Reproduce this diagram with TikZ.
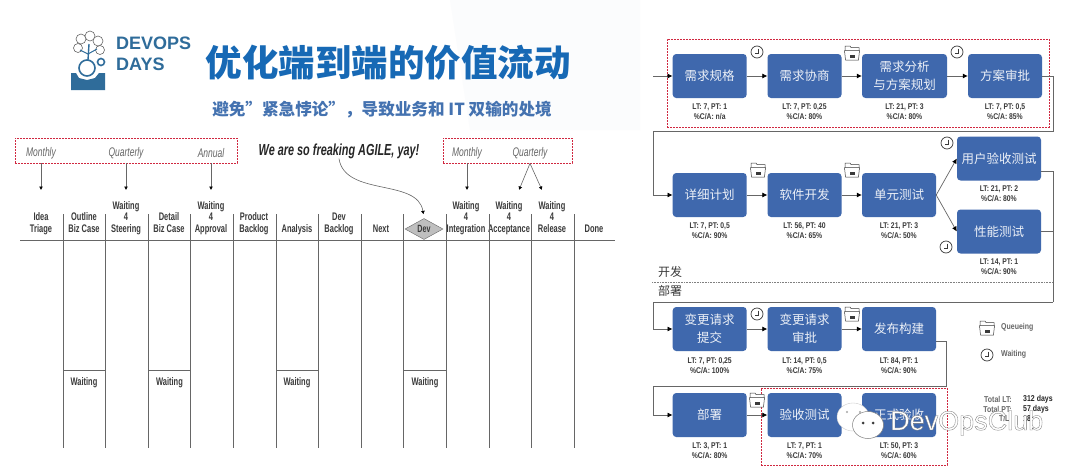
\documentclass[tikz,border=0pt]{standalone}
\usepackage{fontspec}
\usetikzlibrary{arrows.meta,shapes.geometric}
\setmainfont{Liberation Sans}
\newfontfamily\cjkfont{Noto Sans CJK SC}
\newfontfamily\narrowfont[FakeStretch=0.68]{Liberation Sans}
\newfontfamily\metricfont[FakeStretch=0.82]{Liberation Sans}
\definecolor{boxblue}{HTML}{3F68AD}
\definecolor{titleblue}{HTML}{1769B5}
\definecolor{subblue}{HTML}{4472B0}
\definecolor{logoblue}{HTML}{2F6C9A}
\definecolor{framered}{HTML}{D02840}
\definecolor{inkgray}{HTML}{3A3A3A}
\definecolor{linegray}{HTML}{666666}
\definecolor{bgtint}{HTML}{FBFCFD}
\tikzset{
  stepbox/.style={fill=boxblue, rounded corners=3.5pt, minimum height=44pt, inner sep=0pt, align=center, text=white!90!boxblue, font=\cjkfont\fontsize{12.5}{18}\selectfont},
  metric/.style={align=center, inner sep=0pt, text=inkgray, font=\metricfont\bfseries\fontsize{8.3}{10.3}\selectfont},
  flow/.style={draw=linegray, line width=.7pt, -{Latex[length=5pt,width=5pt,color=black]}},
  flowline/.style={draw=linegray, line width=.7pt},
  redframe/.style={draw=framered, dash pattern=on 2pt off 1pt, line width=.9pt, inner sep=0pt},
  colhead/.style={anchor=south, align=center, inner sep=0pt, text=inkgray, execute at end node={\vphantom{g}}, font=\narrowfont\bfseries\fontsize{11}{11.5}\selectfont},
  cadence/.style={inner sep=0pt, text=linegray, font=\narrowfont\itshape\fontsize{12.5}{13}\selectfont},
  cadarrow/.style={draw=linegray, line width=.6pt, -{Latex[length=3.5pt,width=4pt,color=black]}},
  tableline/.style={draw=linegray, line width=.8pt},
  legendtext/.style={anchor=west, inner sep=0pt, text=linegray, font=\metricfont\bfseries\fontsize{8.5}{10}\selectfont},
  totalkey/.style={anchor=east, inner sep=0pt, text=linegray, font=\metricfont\bfseries\fontsize{8.5}{10}\selectfont},
  totalvalue/.style={anchor=west, inner sep=0pt, text=black!85, font=\metricfont\bfseries\fontsize{8.5}{10}\selectfont},
  clockicon/.pic={
    \draw[inkgray, line width=.7pt, fill=white] (0,0) circle (6pt);
    \draw[inkgray, line width=.6pt] (1.5,-3.5) -- (1.5,1.2) -- (-2.5,1.2);
  },
  foldericon/.pic={
    \draw[inkgray, line width=.5pt, fill=white] (-7,-1) -- (-7,-7) -- (-2,-7) -- (-1,-5.5) -- (7,-5.5) -- (7,-1) -- cycle;
    \draw[inkgray, line width=.5pt, fill=white] (-7.5,-2.5) -- (7.5,-2.5) -- (6.5,7) -- (-6.5,7) -- cycle;
    \fill[inkgray] (-2,1.5) rectangle (3,5);
  },
}
\begin{document}
\begin{tikzpicture}[x=1pt,y=-1pt]
  \useasboundingbox (0,0) rectangle (1080,474);
  \fill[white] (0,0) rectangle (1080,474);
  \fill[bgtint] (450,0) -- (640,0) -- (640,130) -- (470,130) -- cycle;
  % red frames
  \node[redframe, minimum width=222pt, minimum height=25pt] (CadenceLeft) at (126,150.5) {};
  \node[redframe, minimum width=129pt, minimum height=25pt] (CadenceRight) at (507.5,150.5) {};
  \node[redframe, minimum width=382pt, minimum height=88pt] (FrameTop) at (858,83) {};
  \node[redframe, minimum width=186pt, minimum height=77pt] (FrameBottom) at (854,426.5) {};
  % logo
  \fill[logoblue] (71,73) -- (76,73) -- (79,78) -- (87,80) -- (95,78) -- (99,73) -- (105,73) -- (105,90) -- (71,90) -- cycle;
  \draw[logoblue, line width=1.6pt] (87,68) circle (8pt);
  \draw[logoblue, line width=1.6pt] (101,62) circle (3.5pt);
  \draw[linegray, line width=.6pt, fill=white] (81,39) circle (5pt);
  \draw[linegray, line width=.6pt, fill=white] (90,36) circle (5pt);
  \draw[linegray, line width=.6pt, fill=white] (98,41) circle (5pt);
  \draw[linegray, line width=.6pt, fill=white] (78,48) circle (4.5pt);
  \draw[linegray, line width=.6pt, fill=white] (100,50) circle (4.5pt);
  \draw[logoblue, line width=1.4pt] (89,44) -- (88,60);
  \draw[logoblue, line width=1pt] (80,50) -- (88,54) -- (97,49);
  \node[anchor=west, inner sep=0pt, text=logoblue, font=\bfseries\fontsize{18}{20}\selectfont] (LogoTop) at (116,43) {DEVOPS};
  \node[anchor=west, inner sep=0pt, text=logoblue, font=\bfseries\fontsize{18}{20}\selectfont] (LogoBottom) at (116,64) {DAYS};
  % title
  \node[inner sep=0pt, text=titleblue, font=\cjkfont\bfseries\fontsize{36.5}{40}\selectfont] (Title) at (388,63) {优化端到端的价值流动};
  \node[inner sep=0pt, text=subblue, font=\cjkfont\bfseries\fontsize{16.6}{20}\selectfont] (Subtitle) at (382,110) {避免”紧急悖论”，导致业务和 IT 双输的处境};
  % left board
  \node[cadence] (MonthlyLeft) at (41,153) {Monthly};
  \node[cadence] (QuarterlyLeft) at (126,153) {Quarterly};
  \node[cadence] (AnnualLeft) at (211,153) {Annual};
  \node[cadence] (MonthlyRight) at (467,153) {Monthly};
  \node[cadence] (QuarterlyRight) at (530,153) {Quarterly};
  \node[inner sep=0pt, text=black!85, font=\narrowfont\bfseries\itshape\fontsize{16}{18}\selectfont] (AgileNote) at (339,151) {We are so freaking AGILE, yay!};
  \node[colhead] (IdeaTriage) at (41,235) {Idea\\Triage};
  \node[colhead] (OutlineCase) at (84,235) {Outline\\Biz Case};
  \node[colhead] (WaitSteering) at (126,235) {Waiting\\4\\Steering};
  \node[colhead] (DetailCase) at (169,235) {Detail\\Biz Case};
  \node[colhead] (WaitApproval) at (211,235) {Waiting\\4\\Approval};
  \node[colhead] (ProductBacklog) at (254,235) {Product\\Backlog};
  \node[colhead] (Analysis) at (297,235) {Analysis};
  \node[colhead] (DevBacklog) at (339,235) {Dev\\Backlog};
  \node[colhead] (NextItem) at (381,235) {Next};
  \node[diamond, draw=linegray, fill=gray!50, aspect=1.8, minimum width=38pt, minimum height=21pt, inner sep=0pt, text=inkgray, font=\narrowfont\bfseries\fontsize{10.5}{11}\selectfont] (DevGate) at (424,229) {Dev};
  \node[colhead] (WaitIntegration) at (466,235) {Waiting\\4\\Integration};
  \node[colhead] (WaitAcceptance) at (509,235) {Waiting\\4\\Acceptance};
  \node[colhead] (WaitRelease) at (552,235) {Waiting\\4\\Release};
  \node[colhead] (DoneItem) at (594,235) {Done};
  \coordinate (IdeaTop) at (41,190);
  \coordinate (SteeringTop) at (126,190);
  \coordinate (ApprovalTop) at (211,190);
  \coordinate (IntegrationTop) at (467,190);
  \coordinate (AcceptanceTop) at (519,190);
  \coordinate (ReleaseTop) at (542,190);
  \draw[cadarrow] (MonthlyLeft |- CadenceLeft.south) -- (IdeaTop);
  \draw[cadarrow] (QuarterlyLeft |- CadenceLeft.south) -- (SteeringTop);
  \draw[cadarrow] (AnnualLeft |- CadenceLeft.south) -- (ApprovalTop);
  \draw[cadarrow] (MonthlyRight |- CadenceRight.south) -- (IntegrationTop);
  \draw[cadarrow] (QuarterlyRight |- CadenceRight.south) -- (AcceptanceTop);
  \draw[cadarrow] (QuarterlyRight |- CadenceRight.south) -- (ReleaseTop);
  \draw[cadarrow, shorten >=4pt] (AgileNote.south) .. controls (345,197) and (418,178) .. (DevGate.north);
  \draw[tableline] (20,240) -- (615,240);
  \draw[tableline] (63,214) -- (63,448);
  \draw[tableline] (105.6,214) -- (105.6,448);
  \draw[tableline] (148.2,214) -- (148.2,448);
  \draw[tableline] (190.8,214) -- (190.8,448);
  \draw[tableline] (233.4,214) -- (233.4,448);
  \draw[tableline] (276,214) -- (276,448);
  \draw[tableline] (318.6,214) -- (318.6,448);
  \draw[tableline] (361.2,214) -- (361.2,448);
  \draw[tableline] (403.8,214) -- (403.8,448);
  \draw[tableline] (446.4,214) -- (446.4,448);
  \draw[tableline] (489,214) -- (489,448);
  \draw[tableline] (531.6,214) -- (531.6,448);
  \draw[tableline] (574.2,214) -- (574.2,448);
  \draw[tableline] (63,370) -- (105.6,370);
  \draw[tableline] (148.2,370) -- (190.8,370);
  \draw[tableline] (276,370) -- (318.6,370);
  \draw[tableline] (403.8,370) -- (446.4,370);
  \node[colhead, anchor=center] (WaitingA) at (84,383) {Waiting};
  \node[colhead, anchor=center] (WaitingB) at (169.5,383) {Waiting};
  \node[colhead, anchor=center] (WaitingC) at (297,383) {Waiting};
  \node[colhead, anchor=center] (WaitingD) at (425,383) {Waiting};
  % value stream, row 1
  \node[stepbox, minimum width=74pt] (ReqSpec) at (709.7,76) {需求规格};
  \node[stepbox, minimum width=74pt] (ReqConsult) at (804.5,76) {需求协商};
  \node[stepbox, minimum width=85pt] (ReqAnalysis) at (904.5,76) {需求分析\\与方案规划};
  \node[stepbox, minimum width=74pt] (PlanReview) at (1005,76) {方案审批};
  \node[metric] (ReqSpecMetric) at (709.7,111.5) {LT: 7, PT: 1\\\%C/A: n/a};
  \node[metric] (ReqConsultMetric) at (804.5,111.5) {LT: 7, PT: 0,25\\\%C/A: 80\%};
  \node[metric] (ReqAnalysisMetric) at (904.5,111.5) {LT: 21, PT: 3\\\%C/A: 80\%};
  \node[metric] (PlanReviewMetric) at (1005,111.5) {LT: 7, PT: 0,5\\\%C/A: 85\%};
  % row 2
  \node[stepbox, minimum width=74pt] (DetailPlan) at (709.7,195) {详细计划};
  \node[stepbox, minimum width=74pt] (SoftwareDev) at (804.5,195) {软件开发};
  \node[stepbox, minimum width=74pt] (UnitTest) at (899,195) {单元测试};
  \node[stepbox, minimum width=84pt] (UserTest) at (999,158.5) {用户验收测试};
  \node[stepbox, minimum width=84pt] (PerfTest) at (999,231.5) {性能测试};
  \node[metric] (DetailPlanMetric) at (709.7,231) {LT: 7, PT: 0,5\\\%C/A: 90\%};
  \node[metric] (SoftwareDevMetric) at (804.5,231) {LT: 56, PT: 40\\\%C/A: 65\%};
  \node[metric] (UnitTestMetric) at (899,231) {LT: 21, PT: 3\\\%C/A: 50\%};
  \node[metric] (UserTestMetric) at (999,194) {LT: 21, PT: 2\\\%C/A: 80\%};
  \node[metric] (PerfTestMetric) at (999,267) {LT: 14, PT: 1\\\%C/A: 90\%};
  \node[anchor=west, inner sep=0pt, text=inkgray, font=\cjkfont\fontsize{12}{14}\selectfont] (DevLabel) at (658,271.5) {开发};
  \node[anchor=west, inner sep=0pt, text=inkgray, font=\cjkfont\fontsize{12}{14}\selectfont] (OpsLabel) at (658,291) {部署};
  \draw[draw=gray, densely dotted, line width=.6pt] (652,282) -- (1053,282);
  % row 3
  \node[stepbox, minimum width=74pt] (ChangeSubmit) at (709.7,329) {变更请求\\提交};
  \node[stepbox, minimum width=74pt] (ChangeReview) at (804.5,329) {变更请求\\审批};
  \node[stepbox, minimum width=74pt] (ReleaseBuild) at (899,329) {发布构建};
  \node[metric] (ChangeSubmitMetric) at (709.7,366) {LT: 7, PT: 0,25\\\%C/A: 100\%};
  \node[metric] (ChangeReviewMetric) at (804.5,366) {LT: 14, PT: 0,5\\\%C/A: 75\%};
  \node[metric] (ReleaseBuildMetric) at (899,366) {LT: 84, PT: 1\\\%C/A: 90\%};
  % row 4
  \node[stepbox, minimum width=74pt] (Deploy) at (709.7,415) {部署};
  \node[stepbox, minimum width=74pt] (AcceptTest) at (804.5,415) {验收测试};
  \node[stepbox, minimum width=74pt] (FinalAccept) at (899,415) {正式验收};
  \node[metric] (DeployMetric) at (709.7,451) {LT: 3, PT: 1\\\%C/A: 80\%};
  \node[metric] (AcceptTestMetric) at (804.5,451) {LT: 7, PT: 1\\\%C/A: 70\%};
  \node[metric] (FinalAcceptMetric) at (899,451) {LT: 50, PT: 3\\\%C/A: 60\%};
  % connectors
  \coordinate (EntryStart) at (653,76);
  \coordinate (TurnAEast) at (1053,131);
  \coordinate (TurnAWest) at (653,131);
  \coordinate (TurnBEast) at (1053,302);
  \coordinate (TurnBWest) at (653,302);
  \coordinate (TurnCEast) at (946,386);
  \coordinate (TurnCWest) at (653,386);
  \draw[flow] (EntryStart) -- (ReqSpec);
  \draw[flow] (ReqSpec) -- (ReqConsult);
  \draw[flow] (ReqConsult) -- (ReqAnalysis);
  \draw[flow] (ReqAnalysis) -- (PlanReview);
  \draw[flow] (PlanReview.east) -| (TurnAEast) -- (TurnAWest) |- (DetailPlan.west);
  \draw[flow] (DetailPlan) -- (SoftwareDev);
  \draw[flow] (SoftwareDev) -- (UnitTest);
  \draw[flow] (UnitTest.east) -- (UserTest.west);
  \draw[flow] (UnitTest.east) -- (PerfTest.west);
  \draw[flowline] ([yshift=-13pt]UserTest.east) -| (TurnBEast);
  \draw[flowline] (PerfTest.east) -| (TurnBEast);
  \draw[flow] (TurnBEast) -- (TurnBWest) |- (ChangeSubmit.west);
  \draw[flow] (ChangeSubmit) -- (ChangeReview);
  \draw[flow] (ChangeReview) -- (ReleaseBuild);
  \draw[flow] ([yshift=-12pt]ReleaseBuild.east) -| (TurnCEast) -- (TurnCWest) |- (Deploy.west);
  \draw[flow] (Deploy) -- (AcceptTest);
  % icons
  \pic at (757,52) {clockicon};
  \pic at (852,53) {foldericon};
  \pic at (957,52) {clockicon};
  \pic at (758,170) {foldericon};
  \pic at (852,170) {foldericon};
  \pic at (947,143) {clockicon};
  \pic at (946,247) {clockicon};
  \pic at (757,314) {clockicon};
  \pic at (852,314) {foldericon};
  \pic at (757,400) {foldericon};
  % legend
  \pic at (987,328) {foldericon};
  \pic at (987,355) {clockicon};
  \node[legendtext] (QueueingText) at (1001,327) {Queueing};
  \node[legendtext] (WaitingText) at (1001,354) {Waiting};
  \node[totalkey] (TotalLtLabel) at (1012,399) {Total LT:};
  \node[totalkey] (TotalPtLabel) at (1012,409) {Total PT:};
  \node[totalkey] (TlLabel) at (1012,418.5) {T/L:};
  \node[totalvalue] (TotalLtValue) at (1023,399) {312 days};
  \node[totalvalue] (TotalPtValue) at (1023,409) {57 days};
  \node[totalvalue] (TlValue) at (1023,418.5) {18};
  % watermark
  \fill[white, draw=gray!40, line width=.4pt] (853,417) ellipse (16pt and 14pt);
  \fill[gray!70] (847,412) circle (1.2pt) (860,412) circle (1.2pt);
  \fill[white, draw=gray, line width=.5pt] (868,425) ellipse (15.5pt and 13.5pt);
  \fill[inkgray] (863,423) circle (1.5pt) (873,423) circle (1.5pt);
  \node[anchor=west, inner sep=0pt, text=white, font=\fontsize{27}{29}\selectfont] (Watermark) at (890,423) {\special{pdf:code q 2 Tr 0.3 w 0.45 G}DevOpsClub\special{pdf:code Q}};
\end{tikzpicture}
\end{document}
